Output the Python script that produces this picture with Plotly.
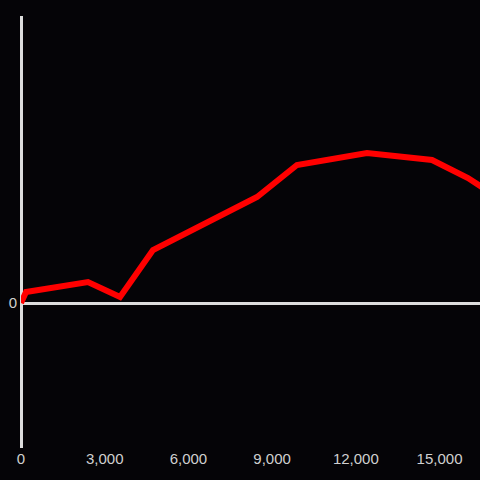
import plotly.graph_objects as go

x_values = [0, 180, 2400, 3550, 4730, 7020, 8460, 9890, 12400, 14730, 16020, 17000]
y_values = [0, 11, 21, 6, 53, 85, 106, 138, 150, 143, 125, 107]
x_ticks = [0, 3000, 6000, 9000, 12000, 15000]
x_tick_labels = ["0", "3,000", "6,000", "9,000", "12,000", "15,000"]

fig = go.Figure()
fig.add_trace(go.Scatter(
    x=x_values, y=y_values, mode="lines",
    line=dict(color="#ff0000", width=6),
    hoverinfo="skip",
))

bg = "#050407"
fig.update_layout(
    width=480, height=480,
    paper_bgcolor=bg, plot_bgcolor=bg,
    margin=dict(l=21, r=0, t=16, b=32),
    showlegend=False,
    font=dict(family="Liberation Sans, Arial, sans-serif", size=15, color="#d0d0d0"),
    xaxis=dict(
        range=[0, 16450],
        tickvals=x_ticks, ticktext=x_tick_labels,
        showgrid=False, zeroline=True, zerolinecolor="#dddddd", zerolinewidth=3,
        showline=False, ticks="",
    ),
    yaxis=dict(
        range=[-145, 287],
        tickvals=[0], ticktext=["0"],
        showgrid=False, zeroline=True, zerolinecolor="#dddddd", zerolinewidth=3,
        showline=False, ticks="", ticklabelstandoff=3,
    ),
)

fig.write_html(
    "out.html",
    config={"displayModeBar": False},
    post_script="document.body.style.margin='0';document.body.style.background='#050407';",
)
